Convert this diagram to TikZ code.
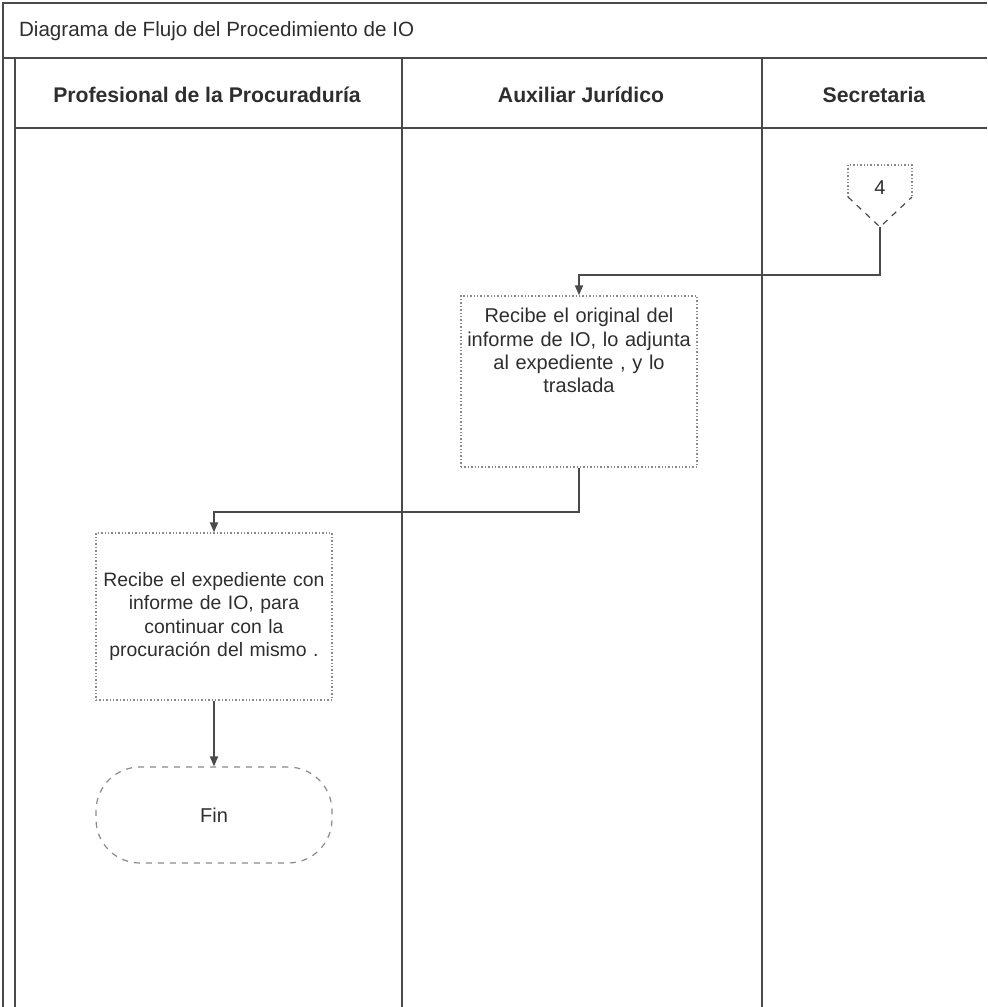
\documentclass[tikz,border=0pt]{standalone}
\usepackage{fontspec}
\setmainfont{Liberation Sans}
\usepackage{tikz}
\usetikzlibrary{arrows.meta,positioning,calc}
\definecolor{linegray}{HTML}{4A4A4A}
\definecolor{boxgray}{HTML}{8A8A8A}
\definecolor{inkgray}{HTML}{2E2E2E}

\begin{document}
\begin{tikzpicture}[
    x=0.5pt, y=-0.5pt,
    every node/.style={font=\fontsize{10}{11.6}\selectfont, text=inkgray},
    lane/.style={draw=linegray, line width=0.6pt},
    header/.style={font=\bfseries\fontsize{10.6}{12}\selectfont},
    block/.style={rectangle, draw=boxgray, densely dotted, line width=0.7pt, minimum width=118pt, inner xsep=1pt, inner ysep=1pt, align=center, text width=116pt},
    terminal/.style={rectangle, draw=boxgray, dashed, line width=0.6pt, rounded corners=22pt, minimum width=118pt, minimum height=48pt},
    arr/.style={-{Triangle[length=5pt, width=4pt]}, line width=0.9pt, draw=linegray},
]
    \useasboundingbox (0,0) rectangle (987,1007);

    % frame and lanes
    \draw[lane] (3,1007) -- (3,3) -- (987,3);
    \draw[lane] (3,58) -- (987,58);
    \draw[lane] (15,128) -- (987,128);
    \foreach \x in {15,402,762}
        \draw[lane] (\x,58) -- (\x,1007);

    \node[anchor=west, font=\fontsize{10.3}{12}\selectfont] (title) at (12,31) {Diagrama de Flujo del Procedimiento de IO};
    \node[header] (lane1) at (207,95) {Profesional de la Procuraduría};
    \node[header] (lane2) at (581,95) {Auxiliar Jurídico};
    \node[header] (lane3) at (874,95) {Secretaria};

    % off-page connector
    \draw[boxgray, densely dotted, line width=0.7pt] (848,197) -- (848,165) -- (912,165) -- (912,197);
    \draw[linegray, dashed, line width=0.6pt] (848,197) -- (880,227) -- (912,197);
    \node (c4) at (880,188) {4};
    \coordinate (c4tip) at (880,227);

    \node[block, minimum height=85.5pt] (recibe) at (579,381.5) {Recibe el original del\\ informe de IO, lo adjunta\\ al expediente , y lo\\ traslada\rule[-31pt]{0pt}{1pt}};
    \node[block, minimum height=83.5pt, font=\fontsize{9.7}{11.6}\selectfont] (expediente) at (214,616.5) {Recibe el expediente con\\ informe de IO, para\\ continuar con la\\ procuración del mismo .};
    \node[terminal] (fin) at (214,815) {Fin};

    \draw[arr] (c4tip) -- (880,275) -| (recibe.north);
    \draw[arr] (recibe.south) -- (579,512) -| (expediente.north);
    \draw[arr] (expediente) -- (fin);
\end{tikzpicture}
\end{document}
